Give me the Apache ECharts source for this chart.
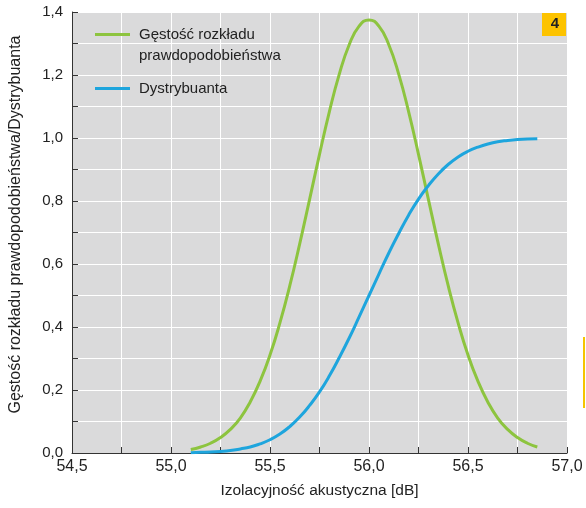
<!DOCTYPE html>
<html lang="pl">
<head>
    <meta charset="UTF-8">
    <title>ECharts</title>
    <style>
        html, body { margin: 0; padding: 0; background: #fff; }
    </style>
</head>
<body>
<div id="main" style="width:586px;height:508px"></div>
<script src="https://cdn.jsdelivr.net/npm/echarts@6/dist/echarts.min.js"></script>
<script>
    // values
    var xValues = [55.10, 55.15, 55.20, 55.25, 55.30, 55.35, 55.40, 55.45, 55.50, 55.55,
        55.60, 55.65, 55.70, 55.75, 55.80, 55.85, 55.90, 55.95, 56.00, 56.05,
        56.10, 56.15, 56.20, 56.25, 56.30, 56.35, 56.40, 56.45, 56.50, 56.55,
        56.60, 56.65, 56.70, 56.75, 56.80, 56.85];
    var density = [0.011, 0.019, 0.031, 0.049, 0.075, 0.111, 0.162, 0.228, 0.311, 0.413,
        0.531, 0.664, 0.805, 0.948, 1.084, 1.203, 1.296, 1.355, 1.375, 1.355,
        1.296, 1.203, 1.084, 0.948, 0.805, 0.664, 0.531, 0.413, 0.311, 0.228,
        0.162, 0.111, 0.075, 0.049, 0.031, 0.019];
    var cdf = [0.001, 0.002, 0.003, 0.005, 0.008, 0.013, 0.019, 0.029, 0.042, 0.060,
        0.084, 0.114, 0.151, 0.194, 0.245, 0.303, 0.365, 0.432, 0.500, 0.568,
        0.635, 0.697, 0.755, 0.806, 0.849, 0.886, 0.916, 0.940, 0.958, 0.971,
        0.981, 0.988, 0.992, 0.995, 0.997, 0.998];
    var seriesNames = ['Gęstość rozkładu\nprawdopodobieństwa', 'Dystrybuanta'];
    var xName = 'Izolacyjność akustyczna [dB]';
    var yName = 'Gęstość rozkładu prawdopodobieństwa/Dystrybuanta';

    function pairs(xs, ys) {
        var out = [];
        for (var i = 0; i < xs.length; i++) {
            out.push([xs[i], ys[i]]);
        }
        return out;
    }

    function comma(v) {
        return v.toFixed(1).replace('.', ',');
    }

    var font = 'Liberation Sans';
    var chart = echarts.init(document.getElementById('main'));

    var option = {
        animation: false,
        textStyle: { fontFamily: font },
        grid: {
            left: 72, right: 19, top: 12, bottom: 55,
            show: true, backgroundColor: '#dadadb', borderWidth: 0
        },
        legend: {
            data: seriesNames,
            orient: 'vertical',
            left: 95, top: 3,
            padding: 0,
            itemGap: 12,
            icon: 'rect',
            itemWidth: 35, itemHeight: 3,
            // blank first line keeps the icon level with the first text line
            formatter: function (name) {
                return name.indexOf('\n') >= 0 ? '\n' + name : name;
            },
            textStyle: { fontFamily: font, fontSize: 15, color: '#222', lineHeight: 21, padding: [0, 0, 0, 4] }
        },
        xAxis: {
            type: 'value',
            min: 54.5, max: 57.0, interval: 0.25,
            name: xName,
            nameLocation: 'middle',
            nameGap: 30,
            nameTextStyle: { fontFamily: font, fontSize: 15.5, color: '#222' },
            axisLine: { show: true, lineStyle: { color: '#333', width: 1 } },
            axisTick: { show: true, inside: true, length: 6, lineStyle: { color: '#333' } },
            axisLabel: {
                fontFamily: font, fontSize: 16, color: '#222', margin: 6,
                formatter: function (v) {
                    return Math.round(v * 4) % 2 === 0 ? comma(v) : '';
                }
            },
            splitLine: { show: true, lineStyle: { color: '#fff', width: 1 } }
        },
        yAxis: {
            type: 'value',
            min: 0, max: 1.4, interval: 0.1,
            name: yName,
            nameLocation: 'middle',
            nameGap: 48,
            nameTextStyle: { fontFamily: font, fontSize: 16, color: '#222', padding: [0, 0, 0, 16] },
            axisLine: { show: true, lineStyle: { color: '#333', width: 1 } },
            axisTick: { show: true, inside: true, length: 6, lineStyle: { color: '#333' } },
            axisLabel: {
                fontFamily: font, fontSize: 15, color: '#222', margin: 9,
                formatter: function (v) {
                    return Math.round(v * 10) % 2 === 0 ? comma(v) : '';
                }
            },
            splitLine: { show: true, lineStyle: { color: '#fff', width: 1 } }
        },
        series: [
            {
                name: seriesNames[0],
                type: 'line',
                data: pairs(xValues, density),
                smooth: true,
                symbol: 'none',
                itemStyle: { color: '#8dc43f' },
                lineStyle: { color: '#8dc43f', width: 3 }
            },
            {
                name: seriesNames[1],
                type: 'line',
                data: pairs(xValues, cdf),
                smooth: true,
                symbol: 'none',
                itemStyle: { color: '#1ea5dd' },
                lineStyle: { color: '#1ea5dd', width: 3 }
            }
        ],
        graphic: [
            {
                type: 'rect',
                right: 20, top: 12,
                shape: { width: 24, height: 24 },
                style: { fill: '#fdc300' }
            },
            {
                type: 'text',
                right: 27, top: 16,
                style: { text: '4', font: 'bold 15px "Liberation Sans"', fill: '#222' }
            },
            {
                type: 'rect',
                left: 583, top: 337,
                shape: { width: 2, height: 71 },
                style: { fill: '#f5c400' }
            }
        ]
    };

    chart.setOption(option);
</script>
</body>
</html>
